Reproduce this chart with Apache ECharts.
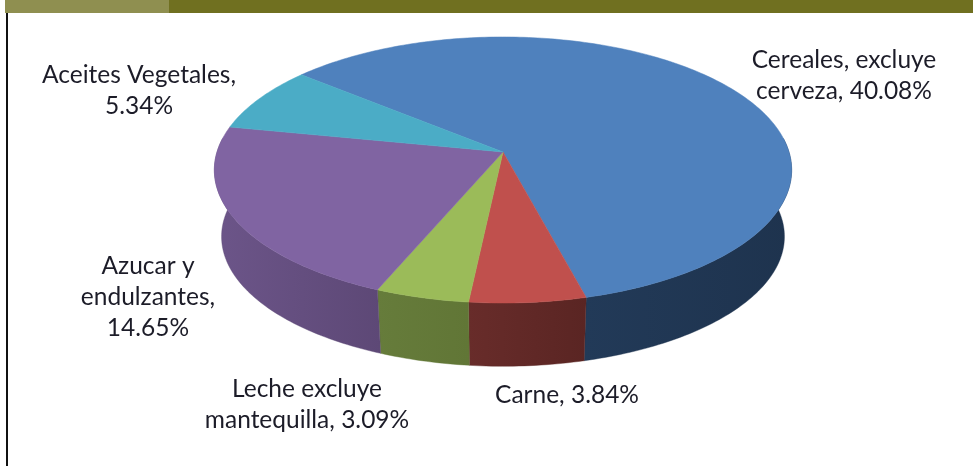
<!DOCTYPE html>
<html>
<head>
<meta charset="utf-8">
<style>html,body{margin:0;padding:0;background:#fff}#c{width:973px;height:466px}</style>
<script src="https://cdn.jsdelivr.net/npm/echarts@6/dist/echarts.min.js"></script>
</head>
<body>
<div id="c"></div>
<script>
const names = ['Cereales, excluye\ncerveza', 'Carne', 'Leche excluye\nmantequilla', 'Azucar y\nendulzantes', 'Aceites Vegetales'];
const values = [40.08, 3.84, 3.09, 14.65, 5.34];
const breakBeforeValue = [false, false, false, true, true];
const topColors = ['#4f81bd', '#c0504d', '#9bbb59', '#8064a2', '#4bacc6'];
const sideColorsA = ['#223a58', '#682c2a', '#667c3b', '#6c5589', '#2c7f96'];
const sideColorsB = ['#1e334e', '#5a2523', '#617636', '#5d4876', '#2c7f96'];
const labelCentres = [[844, 76], [567, 395], [307, 405], [148, 297], [139, 91]];

const startAngle = -50;
const CX = 503, CY = 152, RX = 286, KY = 130.6, PERSP = 0.1353;
const DEPTH = 67, BOTTOM_SCALE = 0.975;
const total = values.reduce((a, b) => a + b, 0);

function project(deg, level) {
  const t = deg * Math.PI / 180, u = Math.sin(t), v = -Math.cos(t);
  const s = 1 / (1 - PERSP * v);
  const f = level ? BOTTOM_SCALE : 1;
  return [CX + RX * u * s * f, CY + KY * v * s * f + (level ? DEPTH : 0)];
}
function arc(a, b, level) {
  const pts = [], n = Math.max(2, Math.ceil(Math.abs(b - a)));
  for (let i = 0; i <= n; i++) pts.push(project(a + (b - a) * i / n, level));
  return pts;
}
function sliceRange(i) {
  let a = startAngle;
  for (let k = 0; k < i; k++) a += values[k] / total * 360;
  return [a, a + values[i] / total * 360];
}
function renderSlice(params, api) {
  const i = params.dataIndex, r = sliceRange(i), children = [];
  const a = Math.max(r[0], 84), b = Math.min(r[1], 276);
  if (b > a) {
    const pts = arc(a, b, 0).concat(arc(a, b, 1).reverse());
    const fill = new echarts.graphic.LinearGradient(0, 0, 1, 0, [
      { offset: 0, color: sideColorsA[i] }, { offset: 1, color: sideColorsB[i] }
    ]);
    children.push({ type: 'polygon', z2: 1, shape: { points: pts },
      style: { fill: fill, stroke: sideColorsB[i], lineWidth: 0.4 } });
  }
  children.push({ type: 'polygon', z2: 2, shape: { points: [[CX, CY]].concat(arc(r[0], r[1], 0)) },
    style: { fill: topColors[i], stroke: topColors[i], lineWidth: 0.5 } });
  const text = names[i] + ',' + (breakBeforeValue[i] ? '\n' : ' ') + values[i].toFixed(2) + '%';
  children.push({ type: 'text', z2: 3, x: labelCentres[i][0], y: labelCentres[i][1],
    style: { text: text, fill: '#1c1c28', font: '24.5px Lato', lineHeight: 31, align: 'center', verticalAlign: 'middle' } });
  return { type: 'group', children: children };
}

const chart = echarts.init(document.getElementById('c'), null, { renderer: 'canvas' });
chart.setOption({
  animation: false,
  backgroundColor: '#fff',
  graphic: [
    { type: 'rect', shape: { x: 5, y: 0, width: 164, height: 13 }, style: { fill: '#8f8f50' } },
    { type: 'rect', shape: { x: 169, y: 0, width: 804, height: 13 }, style: { fill: '#707020' } },
    { type: 'rect', shape: { x: 6, y: 13, width: 2, height: 453 }, style: { fill: '#111' } }
  ],
  series: [{
    type: 'custom',
    coordinateSystem: 'none',
    renderItem: renderSlice,
    data: values
  }]
});
</script>
</body>
</html>
